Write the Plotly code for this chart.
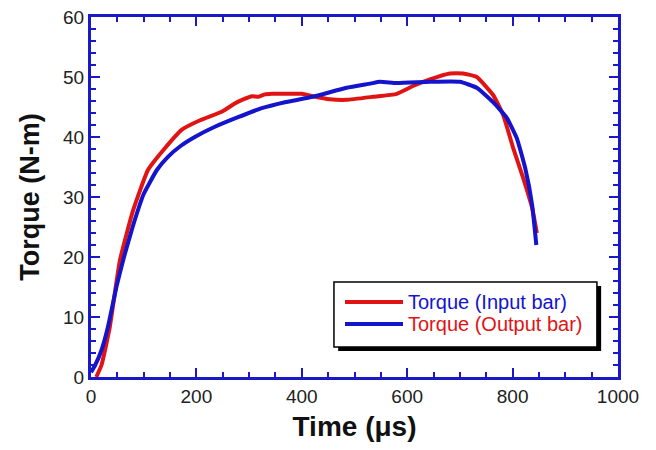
import plotly.graph_objects as go

# Torque vs time
input_time = [10, 20, 35, 55, 80, 108, 137, 172, 207, 248, 273, 290, 305, 318, 330,
              343, 368, 400, 421, 453, 485, 535, 580, 611, 643, 681, 706, 732,
              763, 782, 801, 820, 837, 846]
input_torque = [0.0, 2.0, 8.0, 19.5, 27.8, 34.5, 37.8, 41.2, 42.8, 44.2, 45.6, 46.3,
                46.8, 46.7, 47.1, 47.2, 47.2, 47.2, 46.8, 46.3, 46.2, 46.7, 47.2,
                48.5, 49.6, 50.6, 50.6, 50.0, 47.0, 43.7, 38.2, 33.2, 28.2, 24.0]

output_time = [0, 8, 20, 32, 49, 62, 80, 100, 125, 146, 170, 197, 235, 279, 324,
               368, 421, 485, 530, 548, 580, 643, 700, 732, 763, 789, 808, 824,
               837, 845]
output_torque = [0.8, 2.0, 4.5, 8.3, 15.3, 19.8, 25.3, 30.5, 34.5, 36.7, 38.5, 40.0,
                 41.7, 43.3, 44.8, 45.8, 46.7, 48.2, 48.9, 49.2, 49.0, 49.2, 49.2,
                 48.2, 45.8, 43.2, 39.8, 34.8, 28.7, 22.0]

legend_labels = ["Torque (Input bar)", "Torque (Output bar)"]

RED = "rgb(225,20,20)"
BLUE = "rgb(20,20,205)"
AXIS = "rgb(25,25,200)"
FONT = "Liberation Sans, Arial, sans-serif"

fig = go.Figure()
fig.add_trace(go.Scatter(x=input_time, y=input_torque, mode="lines",
                         line=dict(color=RED, width=4, shape="spline", smoothing=0.4),
                         name=legend_labels[0], showlegend=False))
fig.add_trace(go.Scatter(x=output_time, y=output_torque, mode="lines",
                         line=dict(color=BLUE, width=4, shape="spline", smoothing=0.4),
                         name=legend_labels[1], showlegend=False))

axis_common = dict(
    showgrid=False, zeroline=False, automargin=False,
    showline=True, linecolor=AXIS, linewidth=3, mirror="allticks",
    ticks="inside", ticklen=9, tickwidth=2, tickcolor=AXIS,
    tickfont=dict(family=FONT, size=19, color="#222"),
    ticklabeloverflow="allow",
    minor=dict(ticks="inside", ticklen=5, tickwidth=2, tickcolor=AXIS, showgrid=False),
)

fig.update_xaxes(range=[0, 1000], dtick=200, minor_dtick=50,
                 title=dict(text="Time (μs)", standoff=16,
                            font=dict(family=FONT, size=28, color="#111", weight="bold")),
                 **axis_common)
fig.update_yaxes(range=[0, 60], dtick=10, minor_dtick=2,
                 title=dict(text="Torque (N-m)", standoff=16,
                            font=dict(family=FONT, size=27, color="#111", weight="bold")),
                 **axis_common)

# boxed legend with a drop shadow, drawn in paper coordinates
shapes = [
    dict(type="rect", xref="paper", yref="paper", x0=0.469, x1=0.968, y0=0.072, y1=0.253,
         fillcolor="black", line=dict(width=0), layer="above"),
    dict(type="rect", xref="paper", yref="paper", x0=0.461, x1=0.960, y0=0.083, y1=0.264,
         fillcolor="white", line=dict(color="black", width=1.5), layer="above"),
]
legend_rows = [(0.208, RED, BLUE), (0.147, BLUE, RED)]
annotations = []
for label, (yy, line_col, text_col) in zip(legend_labels, legend_rows):
    shapes.append(dict(type="line", xref="paper", yref="paper", x0=0.482, x1=0.592,
                       y0=yy, y1=yy, line=dict(color=line_col, width=4), layer="above"))
    annotations.append(dict(xref="paper", yref="paper", x=0.598, y=yy, text=label,
                            showarrow=False, xanchor="left", yanchor="middle",
                            font=dict(family=FONT, size=20, color=text_col)))

# the page body adds an 8px offset, so the figure is sized to fit inside it
fig.update_layout(
    width=640, height=434,
    margin=dict(l=83, r=30, t=9, b=65),
    plot_bgcolor="white", paper_bgcolor="white",
    shapes=shapes, annotations=annotations,
)

fig.write_html("out.html")
